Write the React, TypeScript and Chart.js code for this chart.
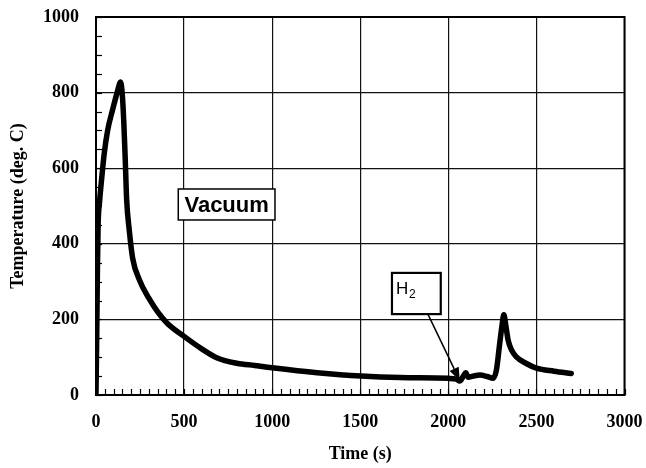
import React, { useEffect, useRef } from "react";
import { Chart, registerables } from "chart.js";

Chart.register(...registerables);

// Time (s)
const times: number[] = [
  0, 4, 8, 12, 20, 28, 47, 66, 95, 120, 140, 150, 158, 166, 174, 189, 208, 246,
  300, 350, 404, 500, 600, 688, 800, 900, 1000, 1255, 1505, 1727, 2000, 2045,
  2065, 2085, 2099, 2112, 2140, 2179, 2220, 2254, 2273, 2290, 2305, 2315, 2327,
  2339, 2360, 2386, 2440, 2500, 2600, 2698,
];
// Temperature (deg. C)
const temps: number[] = [
  5, 150, 330, 450, 510, 552, 640, 700, 756, 800, 828, 790, 720, 623, 517, 435,
  362, 305, 256, 220, 190, 155, 122, 98, 84, 78, 72, 59, 50, 46, 44, 42, 37, 50,
  59, 47, 50, 53, 49, 44, 66, 130, 185, 212, 182, 146, 118, 101, 84, 71, 63, 57,
];

const xTicks: number[] = [0, 500, 1000, 1500, 2000, 2500, 3000];
const yTicks: number[] = [0, 200, 400, 600, 800, 1000];

const SERIF = "'Liberation Serif', 'Times New Roman', serif";
const SANS = "'Liberation Sans', Arial, sans-serif";

const decorPlugin = {
  id: "decor",
  beforeDatasetsDraw(chart: any) {
    const { ctx, chartArea: a, scales } = chart;
    const xs = scales.x;
    const ys = scales.y;
    ctx.save();
    ctx.strokeStyle = "#000";
    ctx.lineWidth = 1.2;
    // minor ticks every 50 pointing inward
    for (let v = 0; v <= 3000; v += 50) {
      const px = Math.round(xs.getPixelForValue(v)) + 0.5;
      ctx.beginPath();
      ctx.moveTo(px, a.bottom);
      ctx.lineTo(px, a.bottom - 6);
      ctx.stroke();
    }
    for (let v = 0; v <= 1000; v += 50) {
      const py = Math.round(ys.getPixelForValue(v)) + 0.5;
      ctx.beginPath();
      ctx.moveTo(a.left, py);
      ctx.lineTo(a.left + 6, py);
      ctx.stroke();
    }
    // frame
    ctx.lineWidth = 2;
    ctx.strokeRect(a.left, a.top, a.right - a.left, a.bottom - a.top);
    ctx.restore();
  },
  afterDatasetsDraw(chart: any) {
    const { ctx, scales } = chart;
    const xs = scales.x;
    const ys = scales.y;
    ctx.save();
    // Vacuum label box
    const vx1 = xs.getPixelForValue(467);
    const vx2 = xs.getPixelForValue(1016);
    const vy1 = ys.getPixelForValue(545);
    const vy2 = ys.getPixelForValue(463);
    ctx.fillStyle = "#fff";
    ctx.fillRect(vx1, vy1, vx2 - vx1, vy2 - vy1);
    ctx.strokeStyle = "#000";
    ctx.lineWidth = 1.5;
    ctx.strokeRect(vx1, vy1, vx2 - vx1, vy2 - vy1);
    ctx.fillStyle = "#000";
    ctx.font = `bold 22px ${SANS}`;
    ctx.textAlign = "center";
    ctx.textBaseline = "middle";
    ctx.fillText("Vacuum", (vx1 + vx2) / 2, (vy1 + vy2) / 2 + 1);

    // H2 label box
    const hx1 = xs.getPixelForValue(1680);
    const hx2 = xs.getPixelForValue(1957);
    const hy1 = ys.getPixelForValue(323);
    const hy2 = ys.getPixelForValue(214);
    ctx.fillStyle = "#fff";
    ctx.fillRect(hx1, hy1, hx2 - hx1, hy2 - hy1);
    ctx.lineWidth = 2.2;
    ctx.strokeRect(hx1, hy1, hx2 - hx1, hy2 - hy1);
    ctx.fillStyle = "#000";
    ctx.textAlign = "left";
    ctx.textBaseline = "alphabetic";
    ctx.font = `17px ${SANS}`;
    ctx.fillText("H", hx1 + 4, hy1 + 21);
    ctx.font = `12px ${SANS}`;
    ctx.fillText("2", hx1 + 17, hy1 + 25);

    // arrow
    const ax1 = xs.getPixelForValue(1884);
    const ay1 = ys.getPixelForValue(214);
    const ax2 = xs.getPixelForValue(2065);
    const ay2 = ys.getPixelForValue(38);
    const ang = Math.atan2(ay2 - ay1, ax2 - ax1);
    const hl = 13;
    const hw = 5;
    const bx = ax2 - hl * Math.cos(ang);
    const by = ay2 - hl * Math.sin(ang);
    ctx.strokeStyle = "#000";
    ctx.lineWidth = 1.5;
    ctx.beginPath();
    ctx.moveTo(ax1, ay1);
    ctx.lineTo(bx, by);
    ctx.stroke();
    ctx.beginPath();
    ctx.moveTo(ax2, ay2);
    ctx.lineTo(bx + hw * Math.sin(ang), by - hw * Math.cos(ang));
    ctx.lineTo(bx - hw * Math.sin(ang), by + hw * Math.cos(ang));
    ctx.closePath();
    ctx.fill();
    ctx.restore();
  },
};

export default function App() {
  const ref = useRef<HTMLCanvasElement | null>(null);

  useEffect(() => {
    if (!ref.current) return;
    const data = times.map((t, i) => ({ x: t, y: temps[i] }));
    const chart = new Chart(ref.current, {
      type: "line",
      data: {
        datasets: [
          {
            data,
            borderColor: "#000",
            borderWidth: 5.5,
            pointRadius: 0,
            cubicInterpolationMode: "monotone",
            fill: false,
            borderJoinStyle: "round",
            borderCapStyle: "round",
          },
        ],
      },
      options: {
        animation: false,
        responsive: false,
        maintainAspectRatio: false,
        layout: { padding: { top: 17, right: 21.5, left: 0, bottom: 0 } },
        plugins: {
          legend: { display: false },
          tooltip: { enabled: false },
        },
        scales: {
          x: {
            type: "linear",
            min: 0,
            max: 3000,
            afterFit: (s: any) => {
              s.height = 73;
              s.paddingLeft = 0;
              s.paddingRight = 0;
            },
            afterBuildTicks: (s: any) => {
              s.ticks = xTicks.map((v) => ({ value: v }));
            },
            grid: {
              color: "#111",
              lineWidth: 1.2,
              drawTicks: false,
            },
            border: { display: false },
            ticks: {
              color: "#000",
              padding: 17,
              maxRotation: 0,
              autoSkip: false,
              callback: (v: any) => String(v),
              font: { family: SERIF, size: 18, weight: "bold" },
            },
            title: {
              display: true,
              text: "Time (s)",
              color: "#000",
              padding: { top: 0, bottom: 3 },
              font: { family: SERIF, size: 18, weight: "bold" },
            },
          },
          y: {
            type: "linear",
            min: 0,
            max: 1000,
            afterFit: (s: any) => {
              s.width = 96;
              s.paddingTop = 0;
              s.paddingBottom = 0;
            },
            afterBuildTicks: (s: any) => {
              s.ticks = yTicks.map((v) => ({ value: v }));
            },
            grid: {
              color: "#111",
              lineWidth: 1.2,
              drawTicks: false,
            },
            border: { display: false },
            ticks: {
              color: "#000",
              padding: 17,
              autoSkip: false,
              callback: (v: any) => String(v),
              font: { family: SERIF, size: 18, weight: "bold" },
            },
            title: {
              display: true,
              text: "Temperature (deg. C)",
              color: "#000",
              padding: { top: 8, bottom: 0 },
              font: { family: SERIF, size: 18, weight: "bold" },
            },
          },
        },
      },
      plugins: [decorPlugin],
    } as any);
    return () => chart.destroy();
  }, []);

  return (
    <div
      style={{
        position: "absolute",
        left: 0,
        top: 0,
        width: 646,
        height: 468,
        background: "#fff",
      }}
    >
      <canvas ref={ref} width={646} height={468} style={{ width: 646, height: 468 }} />
    </div>
  );
}
